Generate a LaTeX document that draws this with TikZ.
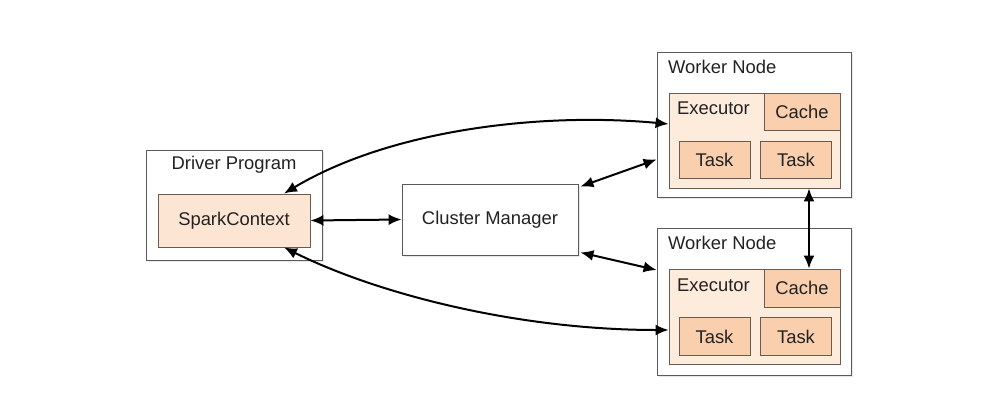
\documentclass[tikz,border=0pt]{standalone}
\usepackage{fontspec}
\setmainfont{Liberation Sans}
\usetikzlibrary{arrows.meta,calc,shadows}
\definecolor{boxline}{HTML}{5A5A5A}
\definecolor{innerline}{HTML}{6B5A50}
\definecolor{scfill}{HTML}{FCE5D3}
\definecolor{exfill}{HTML}{FDEBDC}
\definecolor{tkfill}{HTML}{F9CFAE}
\definecolor{txt}{HTML}{222222}
\tikzset{
  box/.style={draw=boxline, line width=0.9pt, fill=white, inner sep=0pt, text=txt,
    drop shadow={opacity=0.18, shadow xshift=1.5pt, shadow yshift=-1.5pt}},
  innerbox/.style={draw=innerline, line width=0.9pt, inner sep=0pt, text=txt},
  title/.style={inner sep=0pt, text=txt, anchor=west},
  link/.style={line width=2pt, {Latex[length=13pt,width=11pt]}-{Latex[length=13pt,width=11pt]}},
}
\begin{document}
\begin{tikzpicture}[x=1pt,y=-1pt,font=\fontsize{18.4}{22}\selectfont]
\useasboundingbox (0,0) rectangle (1007,407);
% Driver
\node[box, minimum width=176pt, minimum height=110pt] (driver) at (234,205) {};
\node[inner sep=0pt, text=txt] (drivert) at (234,165) {Driver Program};
\node[innerbox, fill=scfill, minimum width=152pt, minimum height=53pt] (sc) at (234,220.5) {SparkContext};
% Cluster manager
\node[box, minimum width=176pt, minimum height=71pt] (cm) at (490,219.5) {Cluster Manager};
% Worker 1
\node[box, minimum width=194pt, minimum height=145pt] (w1) at (754,124.5) {};
\node[title] (w1t) at (668,67) {Worker Node};
\node[innerbox, fill=exfill, minimum width=171pt, minimum height=95pt] (ex1) at (754.5,140.5) {};
\node[title] (ex1t) at (677,108) {Executor};
\node[innerbox, fill=tkfill, minimum width=76pt, minimum height=37pt] (ca1) at (802,111.5) {Cache};
\node[innerbox, fill=tkfill, minimum width=71pt, minimum height=37pt] (t1a) at (714.5,159.5) {Task};
\node[innerbox, fill=tkfill, minimum width=71pt, minimum height=37pt] (t1b) at (796,159.5) {Task};
% Worker 2
\node[box, minimum width=194pt, minimum height=147pt] (w2) at (754,301.5) {};
\node[title] (w2t) at (668,243) {Worker Node};
\node[innerbox, fill=exfill, minimum width=171pt, minimum height=95pt] (ex2) at (754.5,316.5) {};
\node[title] (ex2t) at (677,285) {Executor};
\node[innerbox, fill=tkfill, minimum width=76pt, minimum height=38pt] (ca2) at (802,288) {Cache};
\node[innerbox, fill=tkfill, minimum width=71pt, minimum height=38pt] (t2a) at (714.5,336.5) {Task};
\node[innerbox, fill=tkfill, minimum width=71pt, minimum height=38pt] (t2b) at (796,336.5) {Task};
% endpoints
\coordinate (scN) at ($(sc.north)+(50,0)$);
\coordinate (scS) at ($(sc.south)+(50,0)$);
\coordinate (ex1W) at ($(ex1.west)+(0,-16.5)$);
\coordinate (ex2W) at ($(ex2.west)+(0,13.5)$);
\coordinate (w1W) at ($(w1.west)+(0,35)$);
\coordinate (w2W) at ($(w2.west)+(0,-31.5)$);
\coordinate (ex1S) at ($(ex1.south)+(54.5,0)$);
\coordinate (ca2N) at ($(ca2.north)+(7,0)$);
% connectors
\draw[link] (sc.east) -- (cm.west);
\draw[link] ($(cm.north east)+(2,3)$) -- (w1W);
\draw[link] ($(cm.south east)+(2,-3)$) -- (w2W);
\draw[link] (scN) .. controls (390,130) and (540,112) .. (ex1W);
\draw[link] (scS) .. controls (380,295) and (520,330) .. (ex2W);
\draw[link] (ex1S) -- (ca2N);
\end{tikzpicture}
\end{document}
